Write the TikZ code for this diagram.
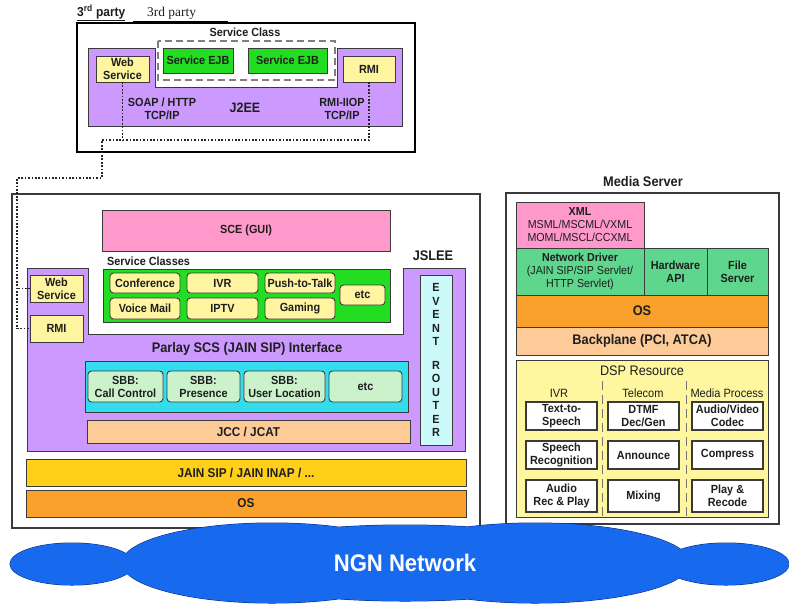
\documentclass[tikz,border=0pt]{standalone}
\usepackage{fontspec}
\setmainfont[FakeStretch=0.92]{Liberation Sans}
\newfontfamily\serifface{Liberation Serif}

\definecolor{purp}{HTML}{CC99FF}
\definecolor{pinkbox}{HTML}{FF99CC}
\definecolor{brightgreen}{HTML}{22DD22}
\definecolor{paleyellow}{HTML}{FFF4A0}
\definecolor{cyanbox}{HTML}{33DDEE}
\definecolor{palegreen}{HTML}{CCF2CC}
\definecolor{peach}{HTML}{FCCB98}
\definecolor{goldbar}{HTML}{FFCF1A}
\definecolor{orangebox}{HTML}{F9A12B}
\definecolor{icecyan}{HTML}{CCFAFA}
\definecolor{mintbox}{HTML}{5FD68E}
\definecolor{lemon}{HTML}{FEF7A0}
\definecolor{ngnblue}{HTML}{1769EE}
\definecolor{ngnedge}{HTML}{0A2A80}
\definecolor{edge}{HTML}{3A3A3A}
\definecolor{inktext}{HTML}{1E1E1E}

\newcommand{\lblfont}{\fontsize{11.8}{13}\selectfont\bfseries}
\newcommand{\hdrfont}{\fontsize{13.9}{15}\selectfont\bfseries}
\newcommand{\regfont}{\fontsize{11.6}{13}\selectfont}

% box node from its corners (x1,y1)-(x2,y2); y runs downwards
\newcommand{\mkbox}[7][]{\node[blk,#1,minimum width={#5-#3},minimum height={#6-#4}] (#2) at ({(#3+#5)/2},{(#4+#6)/2}) {#7};}

\tikzset{
  blk/.style={draw=edge, line width=0.9pt, inner sep=0pt, outer sep=0pt,
              align=center, font=\lblfont, text=inktext},
  rblk/.style={blk, rounded corners=3.5pt},
  txt/.style={inner sep=0pt, align=center, font=\lblfont, text=inktext},
  hdr/.style={txt, font=\hdrfont},
  reg/.style={txt, font=\regfont},
  purpfill/.style={fill=purp, draw=edge, line width=0.9pt},
  conn/.style={draw=black!85, line width=1.7pt, dash pattern=on 1.7pt off 1.7pt},
  divider/.style={draw=black!55, line width=0.8pt, dash pattern=on 9pt off 5pt},
}

\begin{document}
\begin{tikzpicture}[x=1pt,y=-1pt]
\useasboundingbox (0,0) rectangle (789,606);

% ---------------- third party application server ----------------
\node[txt, anchor=west, font=\fontsize{13}{14}\selectfont\bfseries] (partyhead) at (77,13) {\underline{3\textsuperscript{rd} party}};
\node[txt, anchor=west, font=\serifface\fontsize{13.4}{14}\selectfont] (partyname) at (147,13) {3rd party};
\mkbox[draw=black, line width=1.4pt, fill=white]{party}{77}{23}{415}{152}{}
\draw[line width=1pt] (133,21.5) -- (228,21.5);

\draw[purpfill] (88,48) -- (155,48) -- (155,87) -- (337,87) -- (337,48)
  -- (402,48) -- (402,126) -- (88,126) -- cycle;
\draw[draw=black!50, line width=1.4pt, dash pattern=on 7pt off 4pt] (158,41) rectangle (335,80);
\node[txt] (svcclass) at (245,32) {Service Class};
\mkbox[fill=brightgreen]{ejbA}{163}{48}{233}{73}{Service EJB}
\mkbox[fill=brightgreen]{ejbB}{248}{48}{327}{73}{Service EJB}
\mkbox[fill=paleyellow]{wsTop}{96}{56}{149}{82}{Web\\Service}
\mkbox[fill=paleyellow]{rmiTop}{343}{56}{395}{82}{RMI}
\node[txt] (soap) at (162,108.5) {SOAP / HTTP\\TCP/IP};
\node[txt, font=\fontsize{13.6}{15}\selectfont\bfseries] (j2ee) at (245,108) {J2EE};
\node[txt] (iiop) at (342,108.5) {RMI-IIOP\\TCP/IP};

% ---------------- JSLEE ----------------
\mkbox[draw=edge, line width=1.2pt, fill=white]{jslee}{12}{194}{480}{528}{}
\mkbox[fill=pinkbox]{sce}{102}{210}{390}{251}{SCE (GUI)}
\node[txt, anchor=west] (svcclasses) at (107,261) {Service Classes};
\node[hdr] (jsleename) at (433,256) {JSLEE};

\draw[purpfill] (27,268) -- (88,268) -- (88,334) -- (403,334) -- (403,268)
  -- (465,268) -- (465,451) -- (27,451) -- cycle;

\mkbox[fill=brightgreen]{classes}{103}{269}{390}{322}{}
\mkbox[rblk, fill=paleyellow]{conf}{110}{273}{180}{293}{Conference}
\mkbox[rblk, fill=paleyellow]{ivr}{187}{273}{258}{293}{IVR}
\mkbox[rblk, fill=paleyellow]{ptt}{265}{273}{335}{293}{Push-to-Talk}
\mkbox[rblk, fill=paleyellow]{vmail}{110}{298}{180}{319}{Voice Mail}
\mkbox[rblk, fill=paleyellow]{iptv}{187}{298}{258}{319}{IPTV}
\mkbox[rblk, fill=paleyellow]{gaming}{265}{298}{335}{319}{Gaming}
\mkbox[rblk, fill=paleyellow]{etcA}{340}{285}{385}{305}{etc}

\mkbox[fill=paleyellow]{wsLow}{30}{275}{83}{302}{Web\\Service}
\mkbox[fill=paleyellow]{rmiLow}{30}{315}{83}{342}{RMI}

\mkbox[fill=icecyan]{router}{420}{275}{452}{445}{}
\node[txt, font=\fontsize{11.8}{13.5}\selectfont\bfseries] (routertext) at (436,360)
  {E\\V\\E\\N\\T\\[10pt]R\\O\\U\\T\\E\\R};

\node[hdr] (parlay) at (247,349) {Parlay SCS (JAIN SIP) Interface};
\mkbox[fill=cyanbox]{sbbs}{85}{361}{408}{412}{}
\mkbox[rblk, fill=palegreen]{sbbCall}{88}{371}{163}{402}{SBB:\\Call Control}
\mkbox[rblk, fill=palegreen]{sbbPres}{167}{371}{240}{402}{SBB:\\Presence}
\mkbox[rblk, fill=palegreen]{sbbLoc}{244}{371}{325}{402}{SBB:\\User Location}
\mkbox[rblk, fill=palegreen]{sbbEtc}{329}{371}{402}{402}{etc}
\mkbox[fill=peach, font=\fontsize{12.8}{14}\selectfont\bfseries]{jcc}{87}{420}{410}{443}{JCC / JCAT}
\mkbox[fill=goldbar, font=\fontsize{12.8}{14}\selectfont\bfseries]{jain}{26}{459}{466}{486}{JAIN SIP / JAIN INAP / ...}
\mkbox[fill=orangebox, font=\fontsize{12.8}{14}\selectfont\bfseries]{osA}{26}{490}{466}{517}{OS}

% ---------------- links from the third party server ----------------
\coordinate (busA) at (102,140);
\coordinate (busB) at (17,178);
\draw[conn] (rmiTop.south) |- (busA) |- (busB) |- (rmiLow.west);
\draw[conn] (wsTop.south) -- (wsTop.south |- busA);
\draw[conn] (wsLow.west) -- (wsLow.west -| busB);

% ---------------- media server ----------------
\node[hdr] (msname) at (643,182) {Media Server};
\mkbox[draw=edge, line width=1.2pt, fill=white]{media}{506}{193}{779}{524}{}
\mkbox[fill=pinkbox, font=\regfont]{xml}{516}{202}{644}{248}{\textbf{XML}\\MSML/MSCML/VXML\\MOML/MSCL/CCXML}
\mkbox[fill=mintbox, font=\regfont]{netdrv}{516}{248}{644}{295}{\textbf{Network Driver}\\(JAIN SIP/SIP Servlet/\\HTTP Servlet)}
\mkbox[fill=mintbox]{hwapi}{644}{248}{707}{295}{Hardware\\API}
\mkbox[fill=mintbox]{fileserv}{707}{248}{768}{295}{File\\Server}
\mkbox[fill=orangebox, font=\hdrfont]{osB}{516}{295}{768}{327}{OS}
\mkbox[fill=peach, font=\hdrfont]{backplane}{516}{327}{768}{355}{Backplane (PCI, ATCA)}
\mkbox[fill=lemon]{dsp}{516}{360}{768}{517}{}
\node[reg, font=\fontsize{13.8}{15}\selectfont] (dspname) at (642,371) {DSP Resource};
\node[reg, font=\fontsize{12}{13}\selectfont] (colIvr) at (559,393) {IVR};
\node[reg, font=\fontsize{12}{13}\selectfont] (colTel) at (643,393) {Telecom};
\node[reg, font=\fontsize{12}{13}\selectfont] (colMed) at (727,393) {Media Process};
\draw[divider] (602,381) -- (602,517);
\draw[divider] (686,381) -- (686,517);

\mkbox[fill=white, line width=1.2pt]{tts}{526}{402}{597}{430}{Text-to-\\Speech}
\mkbox[fill=white, line width=1.2pt]{dtmf}{608}{402}{679}{430}{DTMF\\Dec/Gen}
\mkbox[fill=white, line width=1.2pt]{codec}{692}{402}{763}{430}{Audio/Video\\Codec}
\mkbox[fill=white, line width=1.2pt]{asr}{526}{441}{597}{469}{Speech\\Recognition}
\mkbox[fill=white, line width=1.2pt]{announce}{608}{441}{679}{469}{Announce}
\mkbox[fill=white, line width=1.2pt]{compress}{692}{441}{763}{469}{Compress}
\mkbox[fill=white, line width=1.2pt]{recplay}{526}{480}{597}{512}{Audio\\Rec \& Play}
\mkbox[fill=white, line width=1.2pt]{mixing}{608}{480}{679}{512}{Mixing}
\mkbox[fill=white, line width=1.2pt]{recode}{692}{480}{763}{512}{Play \&\\Recode}

% ---------------- NGN cloud ----------------
\def\cloudparts{
  (72,564) ellipse [x radius=62, y radius=21]
  (272,563) ellipse [x radius=150, y radius=40]
  (405,563) ellipse [x radius=200, y radius=38]
  (535,563) ellipse [x radius=155, y radius=40]
  (726,564) ellipse [x radius=63, y radius=21]}
\path[draw=ngnedge, line width=1pt, fill=ngnblue] \cloudparts;
\path[fill=ngnblue] \cloudparts;
\node[txt, text=white, font=\fontsize{24}{26}\selectfont\bfseries] (ngn) at (405,563) {NGN Network};
\end{tikzpicture}
\end{document}
